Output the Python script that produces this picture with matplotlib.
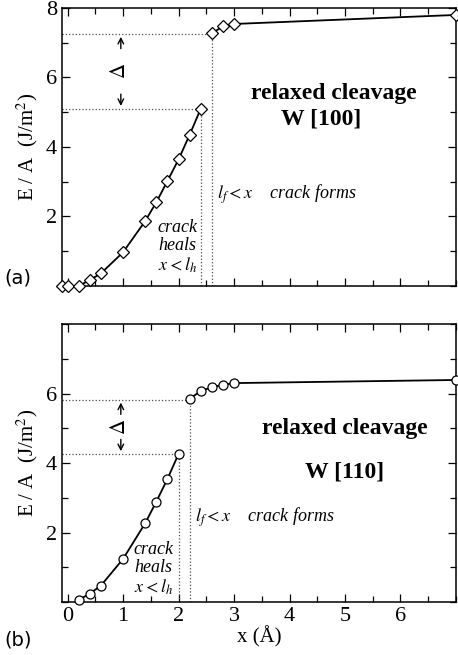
"""
Relaxed cleavage energy of W [100] and W [110]
"""

import matplotlib.pyplot as plt
from matplotlib.ticker import MultipleLocator, FixedLocator

plt.rcParams['font.family'] = ['Liberation Serif', 'DejaVu Serif']
plt.rcParams['mathtext.fontset'] = 'stix'

# panel (a): W [100], diamonds -- healed branch and cracked branch
x_a_heal = [-0.1, 0.0, 0.2, 0.4, 0.6, 1.0, 1.4, 1.6, 1.8, 2.0, 2.2, 2.4]
e_a_heal = [0.0, 0.0, 0.0, 0.17, 0.36, 0.97, 1.87, 2.41, 3.02, 3.64, 4.35, 5.1]
x_a_crack = [2.6, 2.8, 3.0, 7.0]
e_a_crack = [7.27, 7.47, 7.54, 7.8]
# healed / formed boundaries
lh_a, eh_a = 2.4, 5.1
lf_a, ef_a = 2.6, 7.25

# panel (b): W [110], circles
x_b_heal = [0.2, 0.4, 0.6, 1.0, 1.4, 1.6, 1.8, 2.0]
e_b_heal = [0.06, 0.24, 0.47, 1.24, 2.27, 2.89, 3.54, 4.26]
x_b_crack = [2.2, 2.4, 2.6, 2.8, 3.0, 7.0]
e_b_crack = [5.85, 6.07, 6.18, 6.25, 6.3, 6.39]
lh_b, eh_b = 2.0, 4.26
lf_b, ef_b = 2.2, 5.82

fig = plt.figure(figsize=(4.58, 6.55), dpi=100)
ax1 = fig.add_axes([0.1354, 0.5634, 0.8602, 0.4244])
ax2 = fig.add_axes([0.1354, 0.0809, 0.8602, 0.4244])


def style(ax, ylabels):
    ax.set_xlim(-0.1, 7.0)
    ax.set_ylim(0, 8)
    ax.xaxis.set_major_locator(FixedLocator([0, 1, 2, 3, 4, 5, 6]))
    ax.xaxis.set_minor_locator(MultipleLocator(0.5))
    ax.yaxis.set_major_locator(FixedLocator(ylabels))
    ax.yaxis.set_minor_locator(MultipleLocator(1))
    ax.tick_params(which='both', direction='in', top=True, right=True,
                   labelsize=16, width=0.9)
    ax.tick_params(which='major', length=6)
    ax.tick_params(which='minor', length=4)
    for s in ax.spines.values():
        s.set_linewidth(1.1)
    ax.set_ylabel('E / A  (J/m$^2$)', fontsize=15, labelpad=4)


def panel(ax, xh, eh_, xc, ec, mk, lh, eh, lf, ef, arrow_x):
    for xs, es in ((xh, eh_), (xc, ec)):
        ax.plot(xs, es, '-', color='black', lw=1.3, marker=mk, ms=6.5,
                mfc='white', mec='black', mew=0.9, clip_on=False, zorder=3)
    # dotted guides
    ax.plot([-0.1, lh], [eh, eh], ':', color='0.3', lw=0.9)
    ax.plot([lh, lh], [0, eh], ':', color='0.3', lw=0.9)
    ax.plot([-0.1, lf], [ef, ef], ':', color='0.3', lw=0.9)
    ax.plot([lf, lf], [0, ef], ':', color='0.3', lw=0.9)
    # gap arrows
    ax.annotate('', xy=(arrow_x, ef), xytext=(arrow_x, ef - 0.5),
                arrowprops=dict(arrowstyle='->', lw=1.0, color='black'))
    ax.annotate('', xy=(arrow_x, eh), xytext=(arrow_x, eh + 0.5),
                arrowprops=dict(arrowstyle='->', lw=1.0, color='black'))
    ax.text(arrow_x, (eh + ef) / 2, r'$\Delta$', rotation=90, fontsize=15,
            ha='center', va='center')


style(ax1, [2, 4, 6, 8])
ax1.tick_params(labelbottom=False)
panel(ax1, x_a_heal, e_a_heal, x_a_crack, e_a_crack, 'D',
      lh_a, eh_a, lf_a, ef_a, 0.96)
ax1.text(4.8, 5.55, 'relaxed cleavage', fontsize=17, fontweight='bold',
         ha='center', va='center')
ax1.text(4.57, 4.8, 'W [100]', fontsize=17, fontweight='bold',
         ha='center', va='center')
ax1.text(2.7, 2.65, r'$l_f < x$    crack forms', fontsize=13, style='italic',
         ha='left', va='center')
ax1.text(1.98, 1.12, 'crack\nheals\n$x < l_h$', fontsize=13, style='italic',
         ha='center', va='center', linespacing=1.1)
fig.text(0.01, 0.575, '(a)', fontsize=14, family='DejaVu Sans',
         ha='left', va='center')

style(ax2, [2, 4, 6])
panel(ax2, x_b_heal, e_b_heal, x_b_crack, e_b_crack, 'o',
      lh_b, eh_b, lf_b, ef_b, 0.96)
ax2.text(5.0, 4.98, 'relaxed cleavage', fontsize=17, fontweight='bold',
         ha='center', va='center')
ax2.text(5.0, 3.74, 'W [110]', fontsize=17, fontweight='bold',
         ha='center', va='center')
ax2.text(2.3, 2.45, r'$l_f < x$    crack forms', fontsize=13, style='italic',
         ha='left', va='center')
ax2.text(1.55, 0.95, 'crack\nheals\n$x < l_h$', fontsize=13, style='italic',
         ha='center', va='center', linespacing=1.1)
ax2.set_xlabel('x (Å)', fontsize=15, labelpad=0)
fig.text(0.01, 0.023, '(b)', fontsize=14, family='DejaVu Sans',
         ha='left', va='center')

fig.savefig('out.png', dpi=100)
